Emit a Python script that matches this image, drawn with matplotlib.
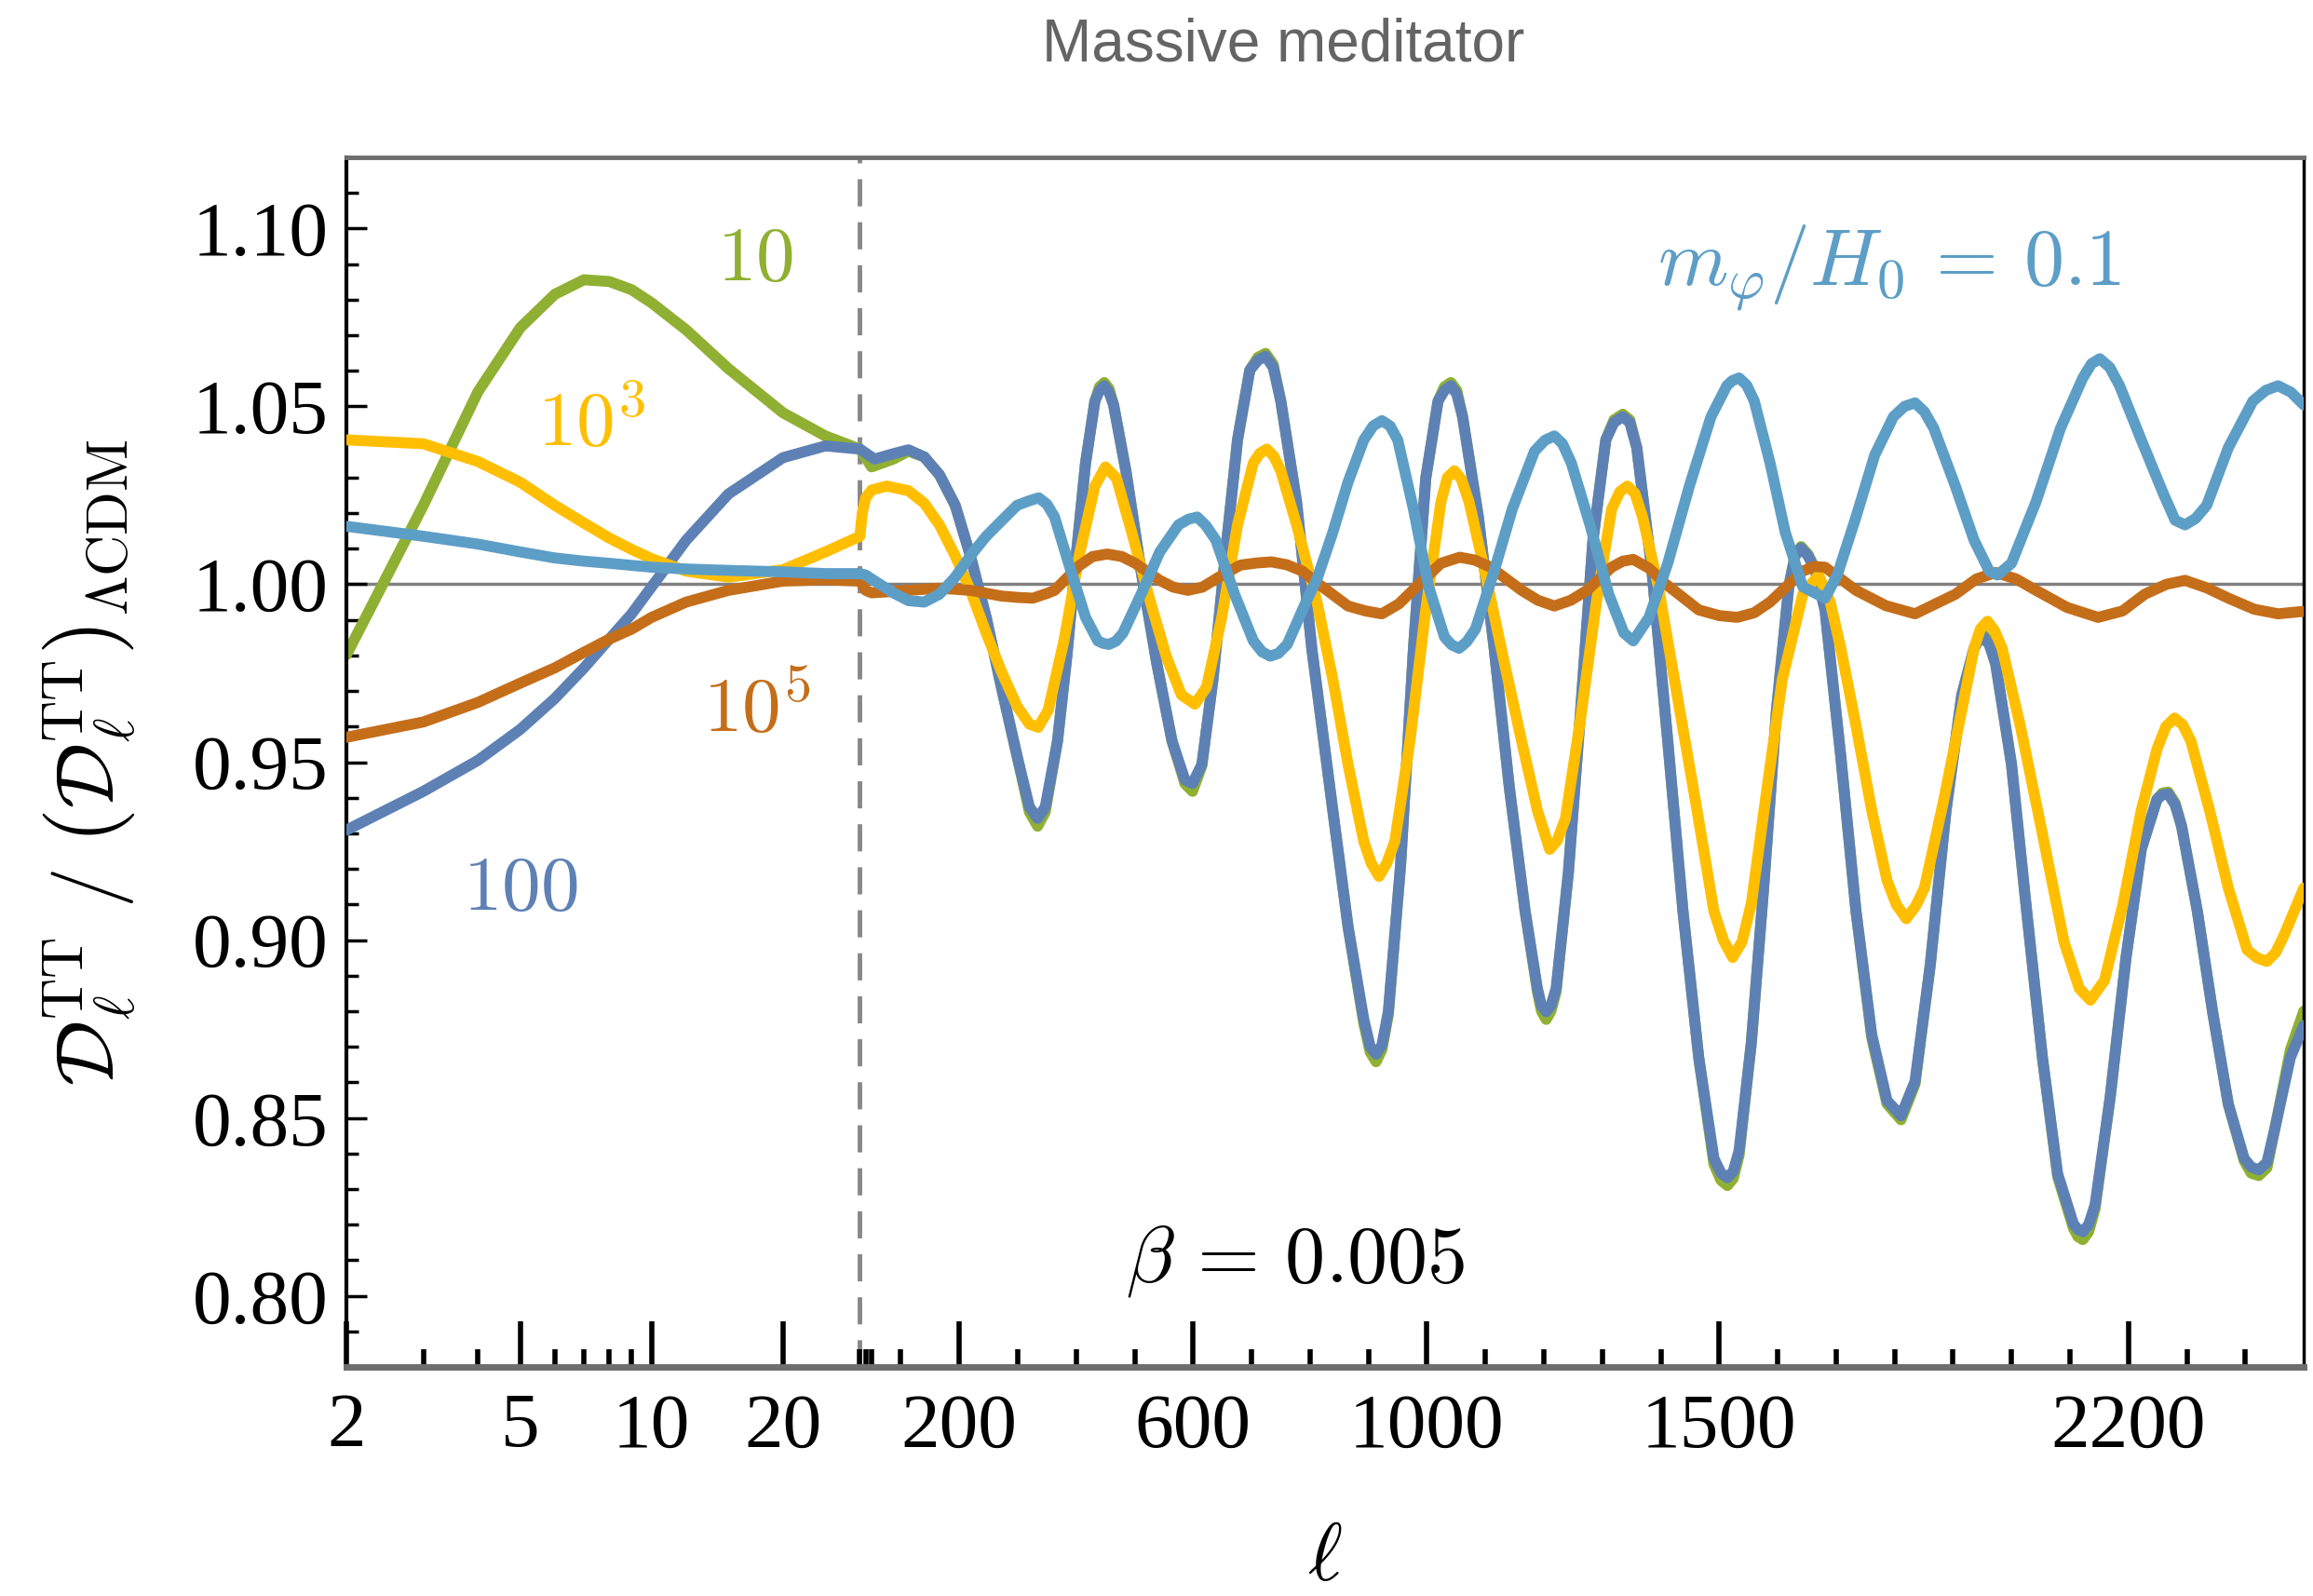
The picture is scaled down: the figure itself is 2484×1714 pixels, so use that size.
import numpy as np
import matplotlib
matplotlib.use("Agg")
import matplotlib.pyplot as plt
from matplotlib.ticker import FixedLocator, MultipleLocator, FormatStrFormatter

plt.rcParams['font.family'] = ['Liberation Serif', 'DejaVu Serif']
plt.rcParams['mathtext.fontset'] = 'cm'

# ---- data (ratio D_l / D_l(LCDM)) ----
# m_phi/H0 = 10 (green)
ell_10 = [2, 3, 4, 5, 6, 7, 8, 9, 10, 12, 15, 20, 25, 30, 50, 87, 113, 140, 166, 193, 219, 246, 272,
          299, 320, 334, 347, 368, 384, 400, 416, 432, 448, 464, 485, 511, 538, 564, 586, 599, 615,
          634, 655, 676, 697, 724, 750, 777, 803, 839, 865, 892, 913, 934, 955, 977, 998, 1019, 1041,
          1061, 1088, 1115, 1141, 1168, 1189, 1204, 1221, 1242, 1263, 1284, 1306, 1335, 1359, 1385,
          1412, 1438, 1465, 1491, 1514, 1534, 1555, 1576, 1598, 1619, 1640, 1681, 1708, 1734, 1761,
          1787, 1811, 1835, 1861, 1888, 1915, 1936, 1952, 1973, 2000, 2026, 2053, 2079, 2106, 2122,
          2143, 2169, 2196, 2222, 2249, 2268, 2291, 2318, 2344, 2371, 2398, 2423, 2451, 2477, 2500]
val_10 = [0.9802, 1.0222, 1.0541, 1.0721, 1.0815, 1.0856, 1.0851, 1.0828, 1.0791, 1.0715, 1.0606,
          1.0482, 1.0417, 1.0380, 1.0330, 1.0352, 1.0374, 1.0358, 1.0308, 1.0222, 1.0080, 0.9907,
          0.9711, 0.9516, 0.9360, 0.9320, 0.9360, 0.9559, 0.9798, 1.0080, 1.0341, 1.0515, 1.0567,
          1.0504, 1.0319, 1.0037, 0.9776, 0.9559, 0.9440, 0.9418, 0.9490, 0.9733, 1.0080, 1.0406,
          1.0602, 1.0649, 1.0515, 1.0232, 0.9820, 0.9364, 0.9038, 0.8765, 0.8658, 0.8790, 0.9212,
          0.9820, 1.0298, 1.0515, 1.0567, 1.0471, 1.0189, 0.9820, 0.9429, 0.9081, 0.8855, 0.8777,
          0.8855, 0.9190, 0.9646, 1.0124, 1.0406, 1.0478, 1.0384, 1.0037, 0.9559, 0.9081, 0.8669,
          0.8370, 0.8310, 0.8395, 0.8712, 0.9146, 0.9646, 0.9993, 1.0106, 0.9928, 0.9516, 0.9081,
          0.8725, 0.8540, 0.8495, 0.8595, 0.8929, 0.9364, 0.9689, 0.9820, 0.9859, 0.9776, 0.9494,
          0.9081, 0.8669, 0.8335, 0.8190, 0.8158, 0.8245, 0.8560, 0.8951, 0.9255, 0.9396, 0.9416,
          0.9320, 0.9081, 0.8799, 0.8538, 0.8380, 0.8338, 0.8473, 0.8690, 0.8800]
# extra readings around the peaks and troughs
ell_10_x = [440, 456, 711, 737, 903, 923, 1030, 1051, 1196, 1212, 1320, 1347, 1503, 1524, 1630,
            1652, 1664, 1944, 1962, 2114, 2132, 2258, 2280, 2410, 2437]
val_10_x = [1.0555, 1.0550, 1.0638, 1.0618, 0.8685, 0.8692, 1.0555, 1.0545, 0.8800, 0.8800,
            1.0462, 1.0462, 0.8325, 0.8330, 1.0084, 1.0084, 1.0044, 0.9850, 0.9838, 0.8166,
            0.8180, 0.9413, 0.9385, 0.8345, 0.8360]

# m_phi/H0 = 100 (blue)
ell_100 = [2, 3, 4, 5, 6, 7, 8, 9, 10, 12, 15, 20, 25, 30, 55, 87, 113, 140, 166, 193, 219, 246, 272,
           299, 320, 334, 347, 368, 384, 400, 416, 432, 448, 464, 485, 511, 538, 564, 586, 599, 615,
           634, 655, 676, 697, 724, 750, 777, 803, 839, 865, 892, 913, 934, 955, 977, 998, 1019, 1041,
           1061, 1088, 1115, 1141, 1168, 1189, 1204, 1221, 1242, 1263, 1284, 1306, 1335, 1359, 1385,
           1412, 1438, 1465, 1491, 1514, 1534, 1555, 1576, 1598, 1619, 1640, 1681, 1708, 1734, 1761,
           1787, 1811, 1835, 1861, 1888, 1915, 1936, 1952, 1973, 2000, 2026, 2053, 2079, 2106, 2122,
           2143, 2169, 2196, 2222, 2249, 2268, 2291, 2318, 2344, 2371, 2398, 2423, 2451, 2477, 2500]
val_100 = [0.9309, 0.9418, 0.9505, 0.9592, 0.9679, 0.9765, 0.9846, 0.9917, 0.9993, 1.0124, 1.0254,
           1.0356, 1.0389, 1.0380, 1.0352, 1.0367, 1.0378, 1.0358, 1.0308, 1.0222, 1.0080, 0.9907,
           0.9711, 0.9516, 0.9374, 0.9342, 0.9374, 0.9559, 0.9798, 1.0080, 1.0341, 1.0515, 1.0558,
           1.0504, 1.0319, 1.0037, 0.9776, 0.9559, 0.9450, 0.9440, 0.9494, 0.9733, 1.0080, 1.0406,
           1.0602, 1.0641, 1.0515, 1.0232, 0.9820, 0.9364, 0.9038, 0.8777, 0.8679, 0.8799, 0.9212,
           0.9820, 1.0298, 1.0515, 1.0558, 1.0471, 1.0189, 0.9820, 0.9429, 0.9081, 0.8864, 0.8799,
           0.8864, 0.9190, 0.9646, 1.0124, 1.0406, 1.0471, 1.0384, 1.0037, 0.9559, 0.9081, 0.8669,
           0.8386, 0.8332, 0.8408, 0.8712, 0.9146, 0.9646, 0.9993, 1.0102, 0.9928, 0.9516, 0.9081,
           0.8734, 0.8549, 0.8506, 0.8603, 0.8929, 0.9364, 0.9689, 0.9820, 0.9852, 0.9776, 0.9494,
           0.9081, 0.8669, 0.8343, 0.8202, 0.8180, 0.8256, 0.8560, 0.8951, 0.9255, 0.9396, 0.9411,
           0.9320, 0.9081, 0.8799, 0.8538, 0.8386, 0.8354, 0.8473, 0.8669, 0.8760]
ell_100_x = [440, 456, 711, 737, 903, 923, 1030, 1051, 1196, 1212, 1320, 1347, 1503, 1524, 1630,
             1652, 1664, 1944, 1962, 2114, 2132, 2258, 2280, 2410, 2437]
val_100_x = [1.0545, 1.0540, 1.0630, 1.0610, 0.8700, 0.8705, 1.0545, 1.0535, 0.8815, 0.8815,
             1.0455, 1.0455, 0.8345, 0.8350, 1.0080, 1.0080, 1.0040, 0.9843, 0.9830, 0.8186,
             0.8200, 0.9408, 0.9380, 0.8362, 0.8375]

# m_phi/H0 = 10^3 (yellow)
ell_1e3 = [2, 3, 4, 5, 6, 7, 8, 9, 10, 12, 15, 20, 25, 30, 34, 40, 50, 76, 113, 140, 166, 193, 219,
           246, 272, 299, 320, 335, 352, 379, 405, 432, 450, 469, 495, 527, 554, 580, 603, 623, 649,
           676, 703, 726, 750, 777, 812, 839, 865, 892, 918, 945, 971, 998, 1024, 1047, 1072, 1099,
           1130, 1162, 1189, 1210, 1237, 1263, 1290, 1316, 1343, 1369, 1396, 1428, 1460, 1491, 1523,
           1555, 1582, 1608, 1643, 1670, 1708, 1734, 1761, 1787, 1820, 1851, 1883, 1915, 1936, 1959,
           1984, 2015, 2053, 2090, 2116, 2135, 2159, 2191, 2222, 2249, 2279, 2307, 2339, 2371, 2403,
           2437, 2467, 2500]
val_1e3 = [1.0406, 1.0395, 1.0345, 1.0287, 1.0222, 1.0172, 1.0130, 1.0098, 1.0072, 1.0037, 1.0020,
           1.0041, 1.0091, 1.0135, 1.0200, 1.0243, 1.0265, 1.0276, 1.0263, 1.0228, 1.0167, 1.0080,
           0.9983, 0.9863, 0.9755, 0.9657, 0.9607, 0.9598, 0.9646, 0.9841, 1.0080, 1.0276, 1.0330,
           1.0298, 1.0146, 0.9950, 0.9798, 0.9689, 0.9663, 0.9711, 0.9907, 1.0167, 1.0341, 1.0380,
           1.0319, 1.0167, 0.9950, 0.9733, 0.9494, 0.9277, 0.9179, 0.9277, 0.9559, 0.9928, 1.0232,
           1.0319, 1.0232, 1.0037, 0.9798, 0.9559, 0.9364, 0.9255, 0.9342, 0.9624, 0.9950, 1.0211,
           1.0276, 1.0189, 0.9993, 0.9689, 0.9385, 0.9081, 0.8951, 0.9103, 0.9429, 0.9733, 0.9972,
           1.0026, 0.9820, 0.9603, 0.9364, 0.9168, 0.9060, 0.9146, 0.9385, 0.9646, 0.9820, 0.9896,
           0.9820, 0.9603, 0.9298, 0.8994, 0.8864, 0.8831, 0.8886, 0.9103, 0.9364, 0.9537, 0.9624,
           0.9559, 0.9364, 0.9146, 0.8973, 0.8940, 0.9016, 0.9146]
ell_1e3_x = [714, 738, 905, 931, 1035, 1059, 1223, 1330, 1356, 1507, 1539, 1690, 1803, 1836, 1947,
             1971, 2264, 2293, 2420, 2452]
val_1e3_x = [1.0368, 1.0360, 0.9215, 0.9215, 1.0300, 1.0295, 0.9280, 1.0260, 1.0255, 0.9000,
             0.8995, 0.9950, 0.9100, 0.9095, 0.9875, 0.9870, 0.9600, 0.9605, 0.8950, 0.8965]

# m_phi/H0 = 10^5 (orange)
ell_1e5 = [2, 3, 4, 5, 6, 7, 8, 9, 10, 12, 15, 20, 25, 30, 40, 50, 87, 166, 219, 272, 326, 363, 405,
           453, 501, 543, 591, 644, 681, 734, 787, 812, 865, 923, 982, 1024, 1056, 1109, 1162, 1218,
           1274, 1316, 1353, 1406, 1465, 1531, 1587, 1643, 1681, 1734, 1835, 1904, 1973, 2042, 2148,
           2228, 2297, 2371, 2456, 2500]
val_1e5 = [0.9570, 0.9613, 0.9668, 0.9722, 0.9765, 0.9809, 0.9846, 0.9874, 0.9907, 0.9950, 0.9983,
           1.0009, 1.0013, 1.0009, 0.9983, 0.9976, 0.9980, 0.9989, 0.9983, 0.9967, 0.9961, 0.9983,
           1.0052, 1.0085, 1.0059, 1.0011, 0.9983, 1.0020, 1.0054, 1.0063, 1.0037, 1.0004, 0.9939,
           0.9917, 0.9993, 1.0059, 1.0076, 1.0048, 0.9983, 0.9939, 0.9983, 1.0048, 1.0070, 1.0004,
           0.9928, 0.9907, 0.9950, 1.0037, 1.0048, 0.9983, 0.9917, 0.9972, 1.0033, 0.9983, 0.9907,
           0.9972, 1.0011, 0.9961, 0.9917, 0.9924]
ell_1e5_x = [301, 351, 428, 478, 566, 616, 709, 760, 895, 952, 1082, 1190, 1246, 1335, 1380, 1500,
             1560, 1662, 1785, 1940, 2008, 2095, 2190, 2265, 2334, 2415]
val_1e5_x = [0.9963, 0.9975, 1.0078, 1.0078, 0.9992, 0.9992, 1.0060, 1.0055, 0.9925, 0.9945,
             1.0068, 0.9955, 0.9955, 1.0065, 1.0045, 0.9912, 0.9920, 1.0050, 0.9940, 1.0015,
             1.0015, 0.9935, 0.9925, 1.0000, 0.9990, 0.9930]

# m_phi/H0 = 0.1 (light blue)
ell_01 = [2, 3, 4, 5, 6, 7, 8, 10, 12, 15, 20, 25, 30, 40, 50, 87, 113, 140, 166, 193, 219, 246, 272,
          299, 336, 363, 389, 416, 437, 456, 480, 511, 543, 575, 607, 639, 671, 703, 732, 761, 793,
          812, 839, 865, 892, 923, 950, 977, 1003, 1030, 1055, 1083, 1115, 1146, 1184, 1218, 1247,
          1279, 1311, 1337, 1353, 1380, 1412, 1449, 1486, 1513, 1534, 1560, 1587, 1613, 1643, 1681,
          1702, 1734, 1766, 1798, 1835, 1867, 1904, 1936, 1962, 1976, 2000, 2042, 2084, 2122, 2151,
          2185, 2222, 2260, 2297, 2334, 2371, 2413, 2456, 2500]
val_01 = [1.0163, 1.0135, 1.0113, 1.0091, 1.0074, 1.0065, 1.0059, 1.0048, 1.0043, 1.0039, 1.0035,
          1.0030, 1.0030, 1.0026, 1.0015, 0.9976, 0.9954, 0.9950, 0.9972, 1.0020, 1.0080, 1.0135,
          1.0178, 1.0222, 1.0243, 1.0189, 1.0048, 0.9907, 0.9841, 0.9831, 0.9863, 0.9972, 1.0091,
          1.0167, 1.0189, 1.0124, 0.9972, 0.9841, 0.9798, 0.9831, 0.9950, 1.0015, 1.0146, 1.0287,
          1.0406, 1.0460, 1.0406, 1.0211, 0.9993, 0.9852, 0.9820, 0.9874, 1.0037, 1.0211, 1.0374,
          1.0417, 1.0341, 1.0167, 0.9972, 0.9863, 0.9841, 0.9907, 1.0059, 1.0276, 1.0471, 1.0558,
          1.0580, 1.0515, 1.0341, 1.0146, 0.9993, 0.9961, 1.0026, 1.0189, 1.0363, 1.0471, 1.0510,
          1.0439, 1.0276, 1.0124, 1.0037, 1.0026, 1.0059, 1.0232, 1.0439, 1.0580, 1.0634, 1.0558,
          1.0406, 1.0254, 1.0167, 1.0222, 1.0384, 1.0515, 1.0558, 1.0504]
ell_01_x = [320, 350, 446, 468, 592, 622, 718, 746, 908, 937, 1042, 1068, 1202, 1232, 1522, 1547,
            1817, 1851, 2137, 2168, 2280, 2315, 2435, 2478]
val_01_x = [1.0235, 1.0225, 0.9834, 0.9840, 1.0183, 1.0165, 0.9810, 0.9806, 1.0445, 1.0445,
            0.9830, 0.9838, 1.0405, 1.0395, 1.0572, 1.0560, 1.0500, 1.0485, 1.0620, 1.0610,
            1.0180, 1.0185, 1.0545, 1.0540]

major_ticks = [2, 5, 10, 20, 200, 600, 1000, 1500, 2200]
minor_ticks = [3, 4, 6, 7, 8, 9, 30, 40, 50, 100, 300, 400, 500, 700, 800, 900, 1100, 1200, 1300,
               1400, 1600, 1700, 1800, 1900, 2000, 2100, 2300, 2400]


def merged(ell, val, ell_x=(), val_x=()):
    e = np.concatenate([ell, ell_x]).astype(float)
    v = np.concatenate([val, val_x]).astype(float)
    order = np.argsort(e, kind='stable')
    return e[order], v[order]


# ---- hybrid axis: log for l <= 30, linear above ----
LIN = 0.001339  # decades per unit of l on the linear part
L30 = np.log10(30.0)


def fwd(x):
    x = np.asarray(x, dtype=float)
    lo = np.log10(np.clip(x, 1e-6, None))
    hi = L30 + (x - 30.0) * LIN
    return np.where(x <= 30, lo, hi)


def inv(y):
    y = np.asarray(y, dtype=float)
    lo = 10 ** np.clip(y, -6, L30)
    hi = 30.0 + (y - L30) / LIN
    return np.where(y <= L30, lo, hi)


fig = plt.figure(figsize=(24.84, 17.14), dpi=100)
ax = fig.add_axes([0.1498, 0.1435, 0.9960 - 0.1498, 0.9014 - 0.1435])
ax.set_xscale('function', functions=(fwd, inv))
ax.set_xlim(2, 2500)
ax.set_ylim(0.78, 1.12)

ax.axhline(1.0, color='#808080', lw=2.5, zorder=1)
ax.axvline(30, color='#888888', lw=3.5, dashes=(6, 3.5), zorder=1)

style = dict(lw=8.5, solid_joinstyle='round', solid_capstyle='round')
ax.plot(*merged(ell_10, val_10, ell_10_x, val_10_x), color='#8FB032', zorder=2, **style)
ax.plot(*merged(ell_100, val_100, ell_100_x, val_100_x), color='#5E81B5', zorder=3, **style)
ax.plot(*merged(ell_1e3, val_1e3, ell_1e3_x, val_1e3_x), color='#FFBF00', zorder=4, **style)
ax.plot(*merged(ell_1e5, val_1e5, ell_1e5_x, val_1e5_x), color='#C56E1A', zorder=5, **style)
ax.plot(*merged(ell_01, val_01, ell_01_x, val_01_x), color='#5D9EC7', zorder=6, **style)

ax.text(17.3, 1.0906, '$10$', color='#8FB032', fontsize=60, ha='center', va='center')
ax.text(7.27, 1.0387, '$10^3$', color='#FFBF00', fontsize=60, ha='center', va='baseline')
ax.text(17.4, 0.9584, '$10^5$', color='#C56E1A', fontsize=60, ha='center', va='baseline')
ax.text(5.01, 0.9086, '$100$', color='#5E81B5', fontsize=60, ha='center', va='baseline')
ax.text(1791, 1.0840, r'$m_\varphi/H_0\,=\,0.1$', color='#5D9EC7', fontsize=62,
        ha='center', va='baseline')
ax.text(775, 0.8039, r'$\beta\,=\,0.005$', color='black', fontsize=62, ha='center',
        va='baseline')

ax.xaxis.set_major_locator(FixedLocator(major_ticks))
ax.xaxis.set_minor_locator(FixedLocator(minor_ticks))
ax.set_xticklabels([str(t) for t in major_ticks])
ax.xaxis.set_minor_formatter(plt.NullFormatter())
ax.yaxis.set_major_locator(MultipleLocator(0.05))
ax.yaxis.set_minor_locator(MultipleLocator(0.01))
ax.yaxis.set_major_formatter(FormatStrFormatter('%.2f'))

ax.tick_params(axis='x', which='major', direction='in', length=35, width=4, pad=20,
               labelsize=60, top=False)
ax.tick_params(axis='x', which='minor', direction='in', length=14, width=4, top=False)
ax.tick_params(axis='y', which='major', direction='in', length=16, width=2.5, pad=14,
               labelsize=60, right=False)
ax.tick_params(axis='y', which='minor', direction='in', length=9, width=2.5, right=False)

ax.spines['left'].set_color('black')
ax.spines['left'].set_linewidth(3)
ax.spines['right'].set_color('black')
ax.spines['right'].set_linewidth(2.5)
ax.spines['top'].set_color('#6E6E6E')
ax.spines['top'].set_linewidth(3.5)
ax.spines['bottom'].set_color('#6E6E6E')
ax.spines['bottom'].set_linewidth(5)

ax.set_ylabel(r'$\mathcal{D}_\ell^{\mathrm{TT}}\ /\ \left(\mathcal{D}_\ell^{\mathrm{TT}}\right)_{\Lambda\mathrm{CDM}}$',
              fontsize=63)
ax.yaxis.set_label_coords(-0.131, 0.5)
ax.yaxis.label.set_va('center')
ax.set_xlabel(r'$\ell$', fontsize=64)
ax.xaxis.set_label_coords(0.5, -0.160)
ax.xaxis.label.set_va('center')

fig.text(0.5548, 0.962, 'Massive meditator', ha='center', va='baseline', fontsize=46,
         color='#646464', family=['Liberation Sans', 'DejaVu Sans'])

fig.savefig('out.png', dpi=100)
